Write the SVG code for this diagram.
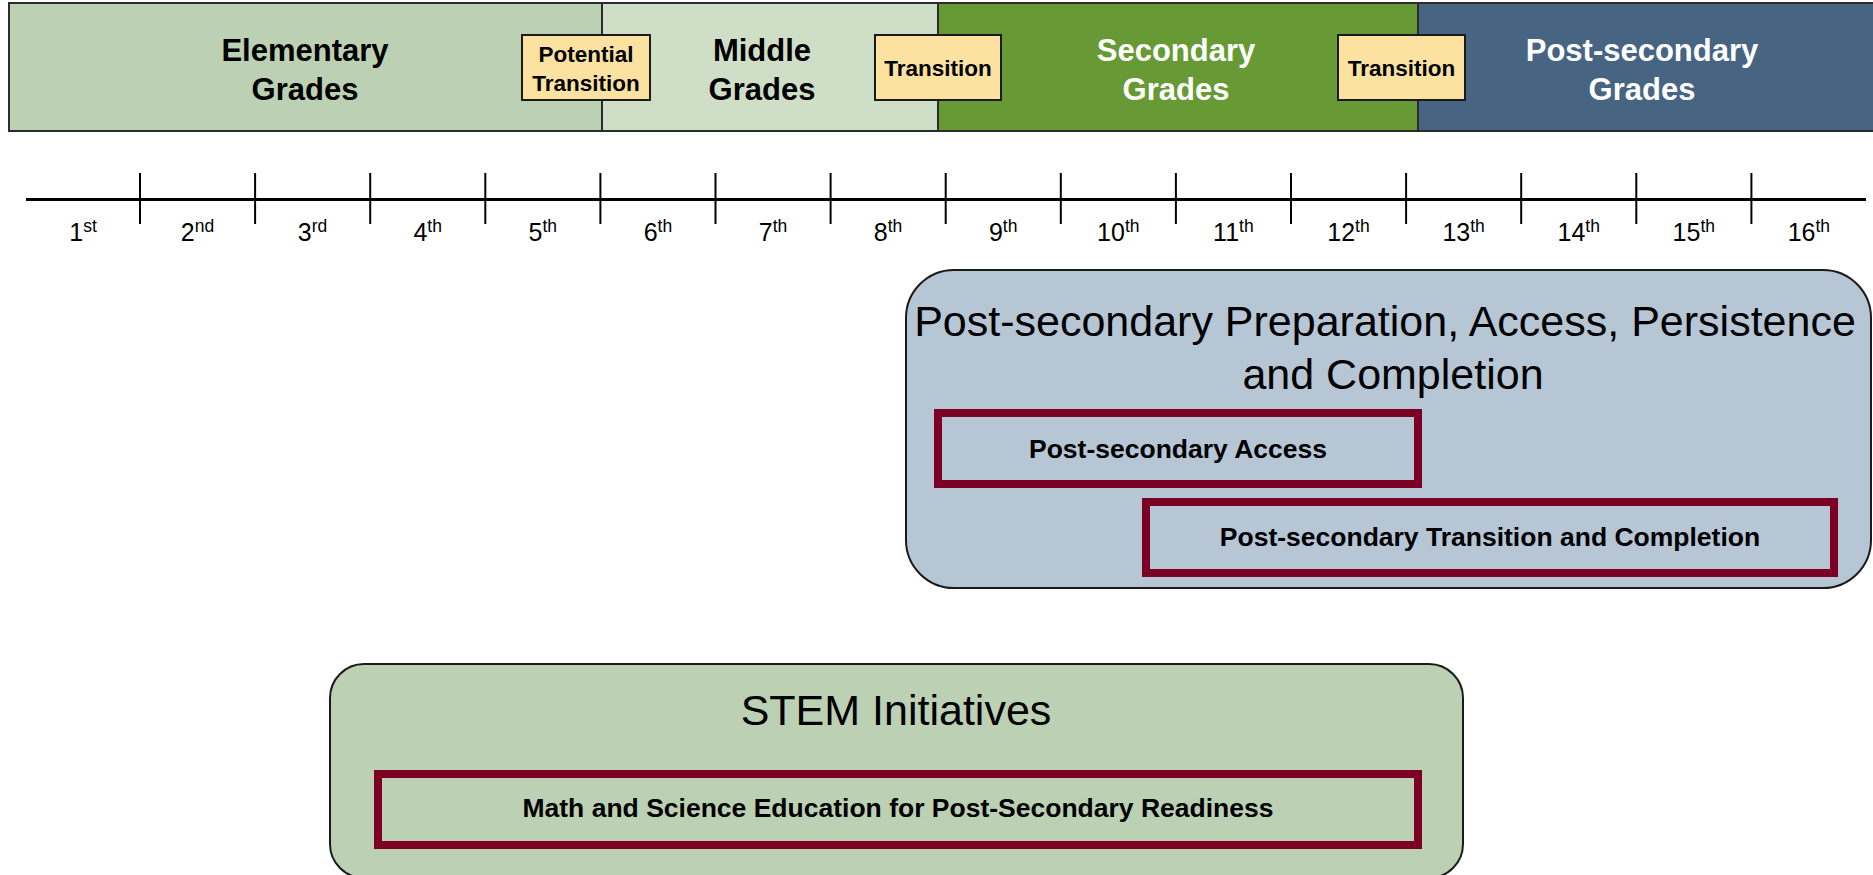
<svg xmlns="http://www.w3.org/2000/svg" width="1873" height="875" viewBox="0 0 1873 875">
  <style>
    .band { stroke: #2b2b2b; stroke-width: 2; }
    .head { font-family: "Liberation Sans", Arial, sans-serif; font-weight: bold; font-size: 31px; text-anchor: middle; }
    .dark { fill: #000000; }
    .light { fill: #ffffff; }
    .trans { fill: #fbe2a1; stroke: #1a1a1a; stroke-width: 2; }
    .trans-t { font-family: "Liberation Sans", Arial, sans-serif; font-weight: bold; font-size: 22.5px; text-anchor: middle; fill: #000; }
    .axis { stroke: #000; stroke-width: 3; fill: none; }
    .tick { stroke: #000; stroke-width: 2; }
    .grade { font-family: "Liberation Sans", Arial, sans-serif; font-size: 25px; text-anchor: middle; fill: #000; }
    .sup { font-size: 17.5px; }
    .panel { stroke: #1a1a1a; stroke-width: 2; }
    .title { font-family: "Liberation Sans", Arial, sans-serif; font-size: 43px; text-anchor: middle; fill: #000; }
    .item { fill: none; stroke: #7b0023; stroke-width: 8; }
    .item-t { font-family: "Liberation Sans", Arial, sans-serif; font-weight: bold; font-size: 26.5px; text-anchor: middle; fill: #000; }
  </style>

  <!-- school-level bands across the top -->
  <g id="band-elementary">
    <rect class="band" x="9" y="3" width="593" height="128" fill="#bcd1b4"/>
    <text class="head dark" x="305" y="61">Elementary</text>
    <text class="head dark" x="305" y="99.5">Grades</text>
  </g>
  <g id="band-middle">
    <rect class="band" x="602" y="3" width="336" height="128" fill="#cedec7"/>
    <text class="head dark" x="762" y="61">Middle</text>
    <text class="head dark" x="762" y="99.5">Grades</text>
  </g>
  <g id="band-secondary">
    <rect class="band" x="938" y="3" width="480" height="128" fill="#679a35"/>
    <text class="head light" x="1176" y="61">Secondary</text>
    <text class="head light" x="1176" y="99.5">Grades</text>
  </g>
  <g id="band-postsecondary">
    <rect class="band" x="1418" y="3" width="460" height="128" fill="#476583"/>
    <text class="head light" x="1642" y="61">Post-secondary</text>
    <text class="head light" x="1642" y="99.5">Grades</text>
  </g>

  <!-- transition markers on the band boundaries -->
  <g id="transition-potential">
    <rect class="trans" x="522" y="35" width="128" height="65"/>
    <text class="trans-t" x="586" y="62">Potential</text>
    <text class="trans-t" x="586" y="91">Transition</text>
  </g>
  <g id="transition-middle-secondary">
    <rect class="trans" x="875" y="35" width="126" height="65"/>
    <text class="trans-t" x="938" y="75.5">Transition</text>
  </g>
  <g id="transition-secondary-post">
    <rect class="trans" x="1338" y="35" width="127" height="65"/>
    <text class="trans-t" x="1401.5" y="75.5">Transition</text>
  </g>

  <!-- grade timeline -->
  <g id="timeline">
    <line class="axis" x1="26" y1="199.5" x2="1866" y2="199.5"/>
    <g class="tick">
      <line x1="140" y1="173" x2="140" y2="224"/>
      <line x1="255.1" y1="173" x2="255.1" y2="224"/>
      <line x1="370.2" y1="173" x2="370.2" y2="224"/>
      <line x1="485.3" y1="173" x2="485.3" y2="224"/>
      <line x1="600.4" y1="173" x2="600.4" y2="224"/>
      <line x1="715.5" y1="173" x2="715.5" y2="224"/>
      <line x1="830.6" y1="173" x2="830.6" y2="224"/>
      <line x1="945.7" y1="173" x2="945.7" y2="224"/>
      <line x1="1060.8" y1="173" x2="1060.8" y2="224"/>
      <line x1="1175.9" y1="173" x2="1175.9" y2="224"/>
      <line x1="1291" y1="173" x2="1291" y2="224"/>
      <line x1="1406.1" y1="173" x2="1406.1" y2="224"/>
      <line x1="1521.2" y1="173" x2="1521.2" y2="224"/>
      <line x1="1636.3" y1="173" x2="1636.3" y2="224"/>
      <line x1="1751.4" y1="173" x2="1751.4" y2="224"/>
    </g>
    <text class="grade" x="83" y="241">1<tspan class="sup" dy="-9">st</tspan></text>
    <text class="grade" x="197.5" y="241">2<tspan class="sup" dy="-9">nd</tspan></text>
    <text class="grade" x="312.6" y="241">3<tspan class="sup" dy="-9">rd</tspan></text>
    <text class="grade" x="427.7" y="241">4<tspan class="sup" dy="-9">th</tspan></text>
    <text class="grade" x="542.8" y="241">5<tspan class="sup" dy="-9">th</tspan></text>
    <text class="grade" x="657.9" y="241">6<tspan class="sup" dy="-9">th</tspan></text>
    <text class="grade" x="773" y="241">7<tspan class="sup" dy="-9">th</tspan></text>
    <text class="grade" x="888.1" y="241">8<tspan class="sup" dy="-9">th</tspan></text>
    <text class="grade" x="1003.2" y="241">9<tspan class="sup" dy="-9">th</tspan></text>
    <text class="grade" x="1118.3" y="241">10<tspan class="sup" dy="-9">th</tspan></text>
    <text class="grade" x="1233.4" y="241">11<tspan class="sup" dy="-9">th</tspan></text>
    <text class="grade" x="1348.5" y="241">12<tspan class="sup" dy="-9">th</tspan></text>
    <text class="grade" x="1463.6" y="241">13<tspan class="sup" dy="-9">th</tspan></text>
    <text class="grade" x="1578.7" y="241">14<tspan class="sup" dy="-9">th</tspan></text>
    <text class="grade" x="1693.8" y="241">15<tspan class="sup" dy="-9">th</tspan></text>
    <text class="grade" x="1808.9" y="241">16<tspan class="sup" dy="-9">th</tspan></text>
  </g>

  <!-- post-secondary programme panel -->
  <g id="panel-postsecondary">
    <rect class="panel" x="906" y="270" width="965" height="318" rx="48" ry="48" fill="#b6c6d5"/>
    <text class="title" x="1385" y="336">Post-secondary Preparation, Access, Persistence</text>
    <text class="title" x="1393" y="389">and Completion</text>
  </g>
  <g id="item-access">
    <rect class="item" x="938" y="413" width="480" height="71"/>
    <text class="item-t" x="1178" y="457.5">Post-secondary Access</text>
  </g>
  <g id="item-completion">
    <rect class="item" x="1146" y="502" width="688" height="71"/>
    <text class="item-t" x="1490" y="546">Post-secondary Transition and Completion</text>
  </g>

  <!-- STEM panel -->
  <g id="panel-stem">
    <rect class="panel" x="330" y="664" width="1133" height="214" rx="34" ry="34" fill="#bcd0b4"/>
    <text class="title" x="896" y="725">STEM Initiatives</text>
  </g>
  <g id="item-math-science">
    <rect class="item" x="378" y="774" width="1040" height="71"/>
    <text class="item-t" x="898" y="817">Math and Science Education for Post-Secondary Readiness</text>
  </g>
</svg>
